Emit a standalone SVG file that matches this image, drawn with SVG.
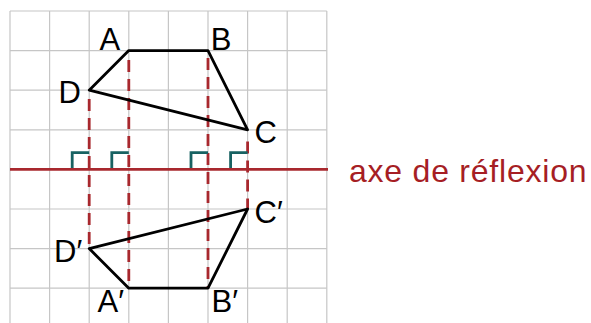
<svg xmlns="http://www.w3.org/2000/svg" width="591" height="323" viewBox="0 0 591 323">
<style>
.grid{stroke:#c6c6c6;stroke-width:1.2;fill:none}
.axis{stroke:#a8282e;stroke-width:2.8;fill:none}
.proj{stroke:#a8282e;stroke-width:2.8;fill:none;stroke-dasharray:12 7}
.right{stroke:#176262;stroke-width:2.8;fill:none}
.shape{stroke:#000;stroke-width:2.8;fill:none;stroke-linejoin:round}
.lbl{font-family:"Liberation Sans",Arial,sans-serif;font-size:31px;fill:#000}
.axlbl{font-family:"Liberation Sans",Arial,sans-serif;font-size:32px;fill:#a61e24}
</style>
<rect width="591" height="323" fill="#fff"/>
<g id="grid" class="grid">
<path d="M10,11V323M49.6,11V323M89.2,11V323M128.8,11V323M168.4,11V323M208,11V323M247.6,11V323M287.2,11V323M326.8,11V323"/>
<path d="M10,11H326.8M10,50.6H326.8M10,90.2H326.8M10,129.8H326.8M10,169.4H326.8M10,209H326.8M10,248.6H326.8M10,288.2H326.8"/>
</g>
<g id="connectors">
<line class="proj" x1="89.2" y1="99" x2="89.2" y2="248.6"/>
<line class="proj" x1="128.8" y1="60" x2="128.8" y2="288.2"/>
<line class="proj" x1="208" y1="58" x2="208" y2="288.2"/>
<line class="proj" x1="247.6" y1="141.5" x2="247.6" y2="209"/>
<path class="right" d="M72.2,169.4V152.7H89.2M111.8,169.4V152.7H128.8M191,169.4V152.7H208M230.6,169.4V152.7H247.6"/>
</g>
<g id="axis">
<line class="axis" x1="10" y1="169.4" x2="328" y2="169.4"/>
<text class="axlbl" x="349" y="181.5" textLength="237.5" lengthAdjust="spacing">axe de réflexion</text>
</g>
<g id="ABCD">
<polygon class="shape" points="128.8,50.6 208,50.6 247.6,129.8 89.2,90.2"/>
<text class="lbl" x="99.5" y="50">A</text>
<text class="lbl" x="210.8" y="50">B</text>
<text class="lbl" x="254.5" y="142.5">C</text>
<text class="lbl" x="58.5" y="102.5">D</text>
</g>
<g id="ABCD-prime">
<polygon class="shape" points="128.8,288.2 208,288.2 247.6,209 89.2,248.6"/>
<text class="lbl" x="97.5" y="311.5">A′</text>
<text class="lbl" x="211.5" y="311.5">B′</text>
<text class="lbl" x="254.5" y="222.5">C′</text>
<text class="lbl" x="54" y="262">D′</text>
</g>
</svg>
